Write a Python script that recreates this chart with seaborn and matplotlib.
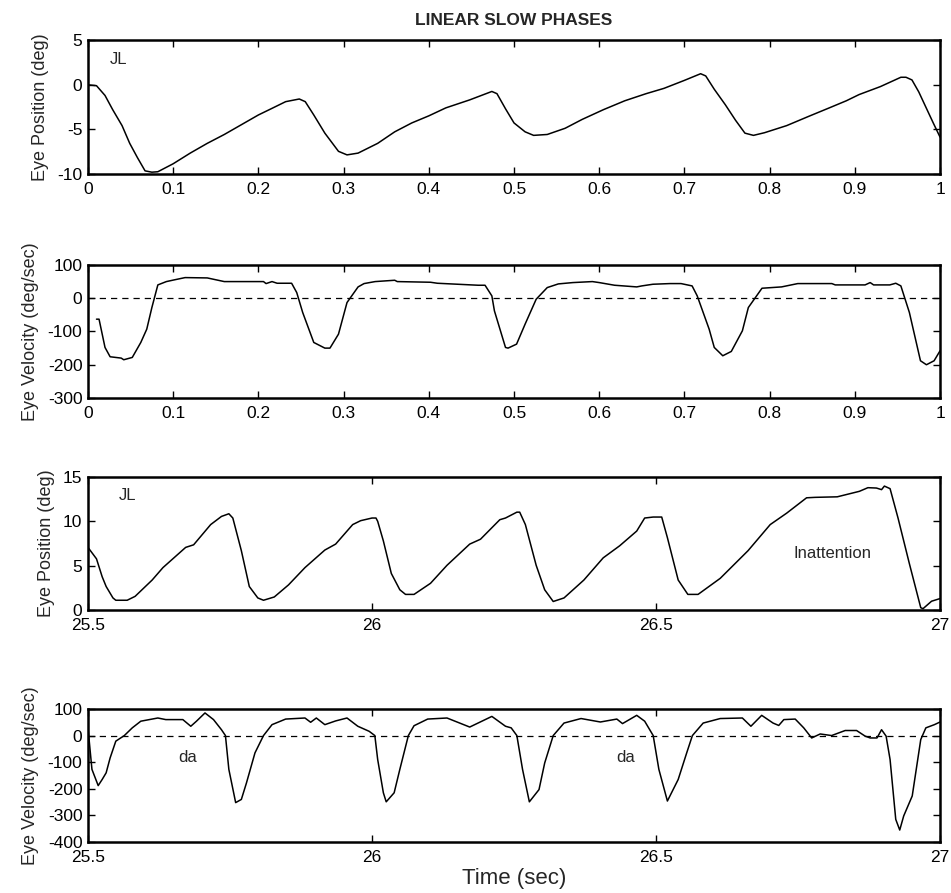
import matplotlib
matplotlib.use("Agg")
import matplotlib.pyplot as plt
import seaborn as sns

# ---- Trial 1 (0-1 s): eye position (deg) ----
pos1_t = [0, 0.01, 0.02, 0.029, 0.04, 0.049, 0.058, 0.067, 0.075, 0.082, 0.10, 0.12, 0.14,
          0.16, 0.18, 0.20, 0.215, 0.232, 0.248, 0.255, 0.265, 0.278, 0.294, 0.304, 0.317,
          0.34, 0.36, 0.38, 0.40, 0.42, 0.448, 0.474, 0.48, 0.49, 0.50, 0.513, 0.523, 0.539,
          0.56, 0.58, 0.605, 0.63, 0.655, 0.676, 0.70, 0.719, 0.725, 0.735, 0.748, 0.76,
          0.771, 0.781, 0.794, 0.82, 0.846, 0.87, 0.89, 0.905, 0.93, 0.954, 0.96, 0.967,
          0.975, 0.983, 0.992, 1.0]
pos1_v = [0.0, -0.1, -1.2, -2.8, -4.6, -6.6, -8.2, -9.7, -9.85, -9.8, -8.9, -7.7, -6.6,
          -5.6, -4.5, -3.4, -2.7, -1.9, -1.6, -1.9, -3.4, -5.45, -7.5, -7.9, -7.7,
          -6.6, -5.3, -4.3, -3.5, -2.6, -1.7, -0.75, -1.0, -2.7, -4.3, -5.3, -5.7, -5.6,
          -4.9, -3.9, -2.8, -1.8, -1.0, -0.4, 0.5, 1.25, 1.0, -0.5, -2.25, -4.0,
          -5.45, -5.7, -5.4, -4.6, -3.55, -2.6, -1.8, -1.1, -0.2, 0.85, 0.85, 0.55,
          -0.8, -2.45, -4.3, -5.9]

# ---- Trial 1 (0-1 s): eye velocity (deg/sec) ----
vel1_t = [0.010, 0.013, 0.020, 0.026, 0.039, 0.042, 0.052, 0.062, 0.069, 0.075, 0.082,
          0.092, 0.101, 0.114, 0.140, 0.160, 0.206, 0.209, 0.216, 0.222, 0.239, 0.245,
          0.252, 0.265, 0.278, 0.284, 0.294, 0.304, 0.317, 0.324, 0.337, 0.360, 0.363,
          0.402, 0.410, 0.458, 0.466, 0.474, 0.477, 0.490, 0.493, 0.503, 0.513, 0.526,
          0.539, 0.552, 0.569, 0.592, 0.600, 0.618, 0.644, 0.650, 0.663, 0.683, 0.696,
          0.709, 0.715, 0.729, 0.735, 0.745, 0.755, 0.768, 0.775, 0.791, 0.814, 0.833,
          0.873, 0.877, 0.912, 0.918, 0.922, 0.941, 0.948, 0.954, 0.964, 0.977, 0.984,
          0.993, 1.0]
vel1_v = [-63, -63, -148, -176, -180, -185, -178, -133, -93, -28, 40,
          50, 55, 62, 61, 50, 50, 44, 50, 45, 45, 17,
          -43, -133, -150, -150, -108, -13, 34, 44, 50, 54, 50,
          48, 45, 39, 39, 7, -38, -148, -150, -138, -78, -3,
          32, 43, 47, 50, 47, 39, 34, 37, 42, 44, 44,
          37, 7, -93, -148, -173, -160, -98, -28, 30, 34, 44,
          44, 40, 40, 47, 40, 40, 45, 37, -43, -188, -200,
          -188, -158]

# ---- Trial 2 (25.5-27 s): eye position (deg) ----
pos2_t = [25.5, 25.515, 25.525, 25.532, 25.544, 25.549, 25.569, 25.583, 25.613, 25.632,
          25.672, 25.686, 25.716, 25.735, 25.748, 25.755, 25.77, 25.784, 25.799, 25.809,
          25.828, 25.853, 25.882, 25.917, 25.936, 25.966, 25.98, 26.0, 26.007, 26.01,
          26.02, 26.034, 26.049, 26.059, 26.074, 26.103, 26.132, 26.172, 26.191, 26.225,
          26.235, 26.255, 26.26, 26.27, 26.289, 26.304, 26.319, 26.338, 26.373, 26.407,
          26.436, 26.466, 26.48, 26.495, 26.51, 26.52, 26.539, 26.556, 26.574, 26.613,
          26.662, 26.701, 26.73, 26.765, 26.78, 26.819, 26.858, 26.873, 26.888, 26.897,
          26.902, 26.912, 26.926, 26.946, 26.966, 26.97, 26.985, 27.0]
pos2_v = [7.06, 5.77, 3.75, 2.65, 1.36, 1.1, 1.1, 1.54, 3.38, 4.78,
          7.06, 7.35, 9.63, 10.55, 10.85, 10.37, 6.69, 2.65, 1.36, 1.1,
          1.47, 2.83, 4.78, 6.76, 7.43, 9.63, 10.07, 10.37, 10.37, 10.0,
          7.79, 4.12, 2.28, 1.76, 1.76, 3.01, 5.04, 7.43, 7.98, 10.18,
          10.37, 11.03, 11.03, 9.63, 5.04, 2.28, 0.96, 1.36, 3.38, 5.88,
          7.24, 8.9, 10.37, 10.48, 10.48, 8.16, 3.38, 1.76, 1.76, 3.57,
          6.69, 9.63, 10.92, 12.65, 12.7, 12.76, 13.38, 13.79, 13.75, 13.57,
          13.97, 13.68, 10.37, 5.22, 0.26, 0.15, 0.99, 1.29]

# ---- Trial 2 (25.5-27 s): eye velocity (deg/sec) ----
vel2_t = [25.5, 25.507, 25.518, 25.525, 25.532, 25.539, 25.549, 25.564, 25.578, 25.593,
          25.623, 25.637, 25.667, 25.681, 25.691, 25.706, 25.721, 25.735, 25.742, 25.748,
          25.76, 25.77, 25.779, 25.794, 25.809, 25.824, 25.848, 25.882, 25.892, 25.902,
          25.917, 25.936, 25.956, 25.975, 25.995, 26.005, 26.01, 26.02, 26.025, 26.039,
          26.049, 26.064, 26.074, 26.098, 26.132, 26.172, 26.211, 26.235, 26.245, 26.255,
          26.265, 26.277, 26.294, 26.304, 26.319, 26.338, 26.368, 26.402, 26.431, 26.441,
          26.466, 26.48, 26.495, 26.505, 26.52, 26.539, 26.554, 26.564, 26.583, 26.613,
          26.652, 26.667, 26.686, 26.706, 26.716, 26.725, 26.745, 26.76, 26.774, 26.789,
          26.809, 26.833, 26.853, 26.868, 26.877, 26.889, 26.897, 26.905, 26.912, 26.922,
          26.929, 26.936, 26.951, 26.966, 26.975, 26.99, 27.0]
vel2_v = [29, -127, -188, -165, -140, -84, -21, 0, 29, 54,
          66, 60, 60, 35, 54, 85, 60, 22, 0, -127,
          -252, -240, -178, -65, 0, 41, 62, 66, 50, 66,
          41, 55, 66, 35, 16, 0, -90, -215, -249, -215,
          -127, 0, 37, 62, 66, 32, 72, 35, 29, 0,
          -127, -249, -203, -103, 0, 47, 64, 51, 62, 45,
          76, 54, 0, -127, -246, -165, -65, 0, 47, 64,
          66, 35, 76, 47, 38, 60, 62, 29, -9, 6,
          0, 19, 19, -2, -9, -9, 22, -2, -90, -315,
          -355, -302, -227, -15, 29, 41, 51]

# Tick positions and labels
ticks_x1 = [0, 0.1, 0.2, 0.3, 0.4, 0.5, 0.6, 0.7, 0.8, 0.9, 1.0]
labels_x1 = ["0", "0.1", "0.2", "0.3", "0.4", "0.5", "0.6", "0.7", "0.8", "0.9", "1"]
ticks_x2 = [25.5, 26, 26.5, 27]
labels_x2 = ["25.5", "26", "26.5", "27"]

sns.set_style("ticks")
plt.rcParams["font.family"] = ["Liberation Sans", "DejaVu Sans"]
plt.rcParams["axes.unicode_minus"] = False

fig = plt.figure(figsize=(9.51, 8.93), dpi=100)

left, width, height = 0.0925, 0.896, 0.149
bottoms = [0.8057, 0.5543, 0.3169, 0.0571]
axes = [fig.add_axes([left, b, width, height]) for b in bottoms]

panels = [
    (pos1_t, pos1_v, (0, 1), (-10, 5), ticks_x1, labels_x1, [-10, -5, 0, 5], "Eye Position (deg)", False),
    (vel1_t, vel1_v, (0, 1), (-300, 100), ticks_x1, labels_x1, [-300, -200, -100, 0, 100], "Eye Velocity (deg/sec)", True),
    (pos2_t, pos2_v, (25.5, 27), (0, 15), ticks_x2, labels_x2, [0, 5, 10, 15], "Eye Position (deg)", False),
    (vel2_t, vel2_v, (25.5, 27), (-400, 100), ticks_x2, labels_x2, [-400, -300, -200, -100, 0, 100], "Eye Velocity (deg/sec)", True),
]

for ax, (t, v, xl, yl, xt, xtl, yt, ylab, zero_line) in zip(axes, panels):
    if zero_line:
        ax.axhline(0, color="black", lw=0.9, ls=(0, (5, 4)))
    sns.lineplot(x=t, y=v, ax=ax, color="black", lw=1.1, sort=False, estimator=None)
    ax.set_xlim(*xl)
    ax.set_ylim(*yl)
    ax.set_xticks(xt)
    ax.set_xticklabels(xtl)
    ax.set_yticks(yt)
    ax.set_yticklabels([str(y) for y in yt])
    ax.tick_params(direction="in", top=True, right=True, length=5, width=1.0,
                   labelsize=12.5, colors="black")
    ax.tick_params(axis="x", pad=6)
    ax.tick_params(axis="y", pad=4)
    for sp in ax.spines.values():
        sp.set_visible(True)
        sp.set_linewidth(1.8)
        sp.set_color("black")
    ax.set_ylabel(ylab, fontsize=13, labelpad=6)
    ax.set_xlabel("")
    ax.set_facecolor("white")

axes[0].set_title("LINEAR SLOW PHASES", fontsize=12.5, fontweight="bold", pad=11)
axes[0].text(0.026, 2.9, "JL", fontsize=12, va="center")
axes[2].text(25.555, 12.9, "JL", fontsize=12, va="center")
axes[2].text(26.81, 6.4, "Inattention", fontsize=12, ha="center", va="center")
axes[3].text(25.676, -82, "da", fontsize=12, ha="center", va="center")
axes[3].text(26.446, -82, "da", fontsize=12, ha="center", va="center")
axes[3].set_xlabel("Time (sec)", fontsize=16, labelpad=2)

fig.savefig("out.png", dpi=100, facecolor="white")
